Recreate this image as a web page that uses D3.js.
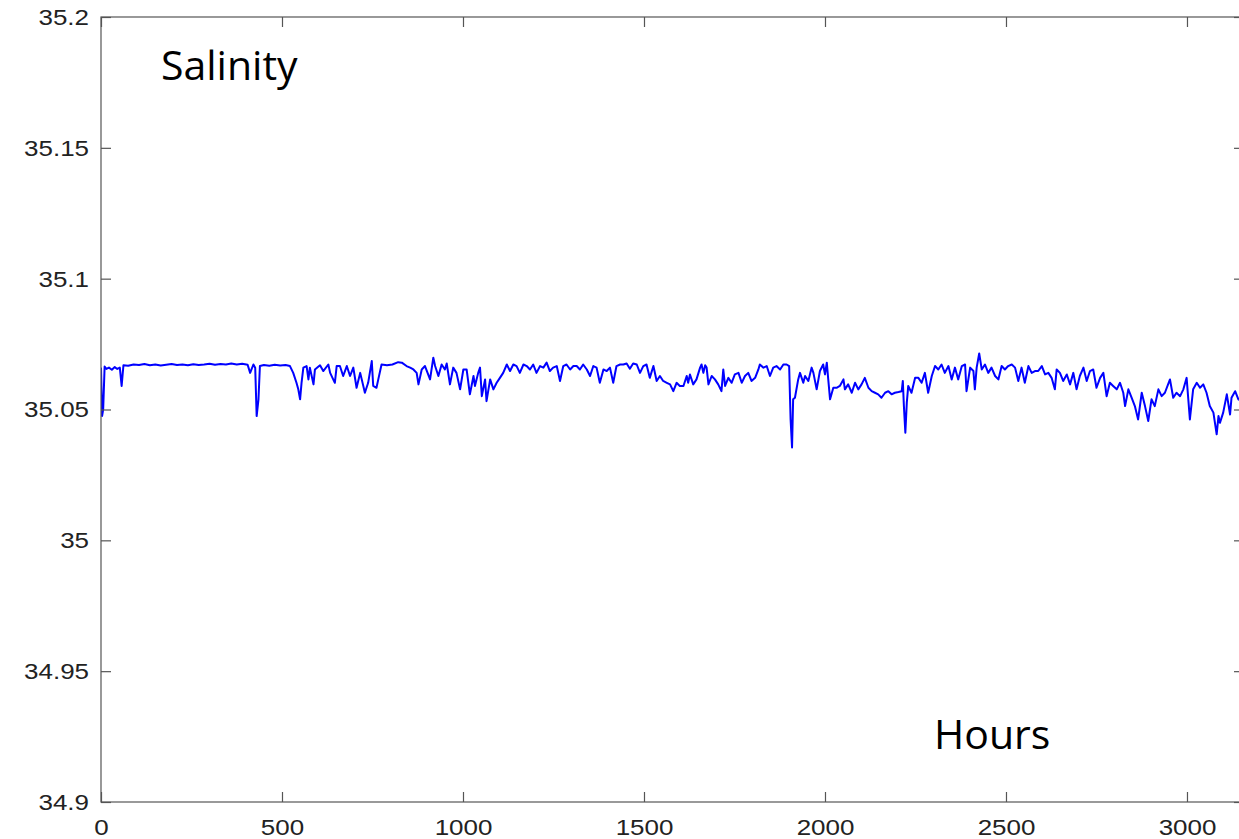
<!DOCTYPE html>
<html>
<head>
<meta charset="utf-8">
<script src="https://cdn.jsdelivr.net/npm/d3@7"></script>
<style>
  html, body { margin: 0; padding: 0; background: #fff; overflow: hidden; }
  svg { display: block; }
</style>
</head>
<body>
<svg id="chart" width="1239" height="839"></svg>
<script>
// Hourly record of salinity (hour of record, salinity)
const hours = [
  0, 3, 6, 10, 15, 22, 30, 38, 45, 52, 57, 62, 75, 90, 105, 120, 135, 150, 165, 180,
  195, 210, 225, 240, 255, 270, 285, 300, 315, 330, 345, 360, 375, 390, 405, 412, 421, 426, 430, 435,
  439, 450, 465, 480, 495, 510, 522, 531, 540, 545, 550, 554, 559, 568, 573, 577, 587, 591, 605, 614,
  628, 633, 646, 651, 660, 669, 679, 688, 697, 706, 716, 729, 738, 748, 752, 761, 766, 775, 790, 805,
  821, 831, 844, 854, 863, 872, 877, 886, 895, 909, 918, 923, 932, 941, 950, 955, 964, 973, 982, 992,
  1001, 1010, 1019, 1029, 1033, 1042, 1047, 1052, 1061, 1065, 1075, 1084, 1093, 1102, 1111, 1121, 1130, 1139, 1148, 1157,
  1167, 1176, 1185, 1194, 1203, 1213, 1222, 1231, 1240, 1249, 1259, 1268, 1277, 1286, 1296, 1305, 1314, 1323, 1332, 1342,
  1351, 1360, 1369, 1378, 1388, 1397, 1406, 1415, 1424, 1434, 1443, 1452, 1461, 1470, 1480, 1489, 1498, 1507, 1516, 1526,
  1535, 1544, 1553, 1563, 1572, 1581, 1590, 1599, 1609, 1618, 1622, 1627, 1636, 1645, 1655, 1659, 1664, 1669, 1673, 1678,
  1687, 1696, 1705, 1714, 1719, 1724, 1733, 1742, 1751, 1761, 1770, 1779, 1788, 1797, 1807, 1816, 1820, 1830, 1839, 1848,
  1857, 1866, 1876, 1885, 1894, 1901, 1905, 1909, 1912, 1917, 1926, 1931, 1940, 1945, 1954, 1963, 1968, 1977, 1986, 1995,
  2000, 2005, 2009, 2014, 2023, 2032, 2041, 2051, 2055, 2064, 2074, 2083, 2092, 2101, 2110, 2120, 2129, 2138, 2147, 2156,
  2166, 2175, 2184, 2193, 2203, 2212, 2215, 2218, 2222, 2226, 2230, 2239, 2249, 2258, 2267, 2276, 2285, 2295, 2304, 2313,
  2322, 2331, 2341, 2350, 2359, 2368, 2378, 2387, 2391, 2401, 2410, 2414, 2419, 2426, 2433, 2442, 2451, 2460, 2470, 2479,
  2488, 2497, 2506, 2516, 2525, 2534, 2543, 2552, 2562, 2571, 2580, 2589, 2599, 2608, 2617, 2626, 2635, 2640, 2649, 2658,
  2668, 2677, 2686, 2695, 2704, 2714, 2723, 2732, 2741, 2750, 2760, 2769, 2778, 2787, 2796, 2806, 2815, 2824, 2829, 2838,
  2847, 2856, 2865, 2875, 2884, 2893, 2902, 2911, 2921, 2930, 2939, 2953, 2962, 2971, 2981, 2990, 2999, 3008, 3017, 3027,
  3036, 3045, 3054, 3063, 3073, 3082, 3087, 3091, 3100, 3110, 3119, 3123, 3133, 3142, 3150
];

const salinity = [
  35.0660, 35.0475, 35.0500, 35.0664, 35.0655, 35.0660, 35.0652, 35.0662, 35.0655, 35.0660, 35.0590, 35.0669, 35.0667, 35.0672, 35.0670, 35.0674, 35.0669, 35.0672, 35.0668, 35.0671,
  35.0674, 35.0670, 35.0672, 35.0669, 35.0673, 35.0670, 35.0672, 35.0675, 35.0671, 35.0674, 35.0672, 35.0676, 35.0672, 35.0675, 35.0671, 35.0640, 35.0672, 35.0660, 35.0475, 35.0539,
  35.0666, 35.0670, 35.0667, 35.0671, 35.0668, 35.0670, 35.0666, 35.0640, 35.0602, 35.0577, 35.0539, 35.0602, 35.0660, 35.0666, 35.0615, 35.0660, 35.0596, 35.0653, 35.0669, 35.0647,
  35.0672, 35.0640, 35.0602, 35.0666, 35.0666, 35.0628, 35.0666, 35.0628, 35.0660, 35.0583, 35.0640, 35.0564, 35.0602, 35.0685, 35.0590, 35.0583, 35.0615, 35.0672, 35.0669, 35.0672,
  35.0681, 35.0679, 35.0666, 35.0660, 35.0653, 35.0640, 35.0596, 35.0653, 35.0666, 35.0615, 35.0698, 35.0666, 35.0628, 35.0672, 35.0653, 35.0676, 35.0596, 35.0660, 35.0640, 35.0577,
  35.0653, 35.0653, 35.0558, 35.0628, 35.0590, 35.0640, 35.0660, 35.0551, 35.0615, 35.0532, 35.0615, 35.0577, 35.0602, 35.0621, 35.0640, 35.0672, 35.0647, 35.0672, 35.0666, 35.0640,
  35.0672, 35.0666, 35.0653, 35.0672, 35.0640, 35.0666, 35.0660, 35.0679, 35.0647, 35.0660, 35.0666, 35.0609, 35.0666, 35.0672, 35.0653, 35.0666, 35.0666, 35.0653, 35.0672, 35.0653,
  35.0628, 35.0666, 35.0660, 35.0602, 35.0653, 35.0647, 35.0660, 35.0602, 35.0666, 35.0672, 35.0672, 35.0676, 35.0656, 35.0676, 35.0672, 35.0640, 35.0666, 35.0672, 35.0621, 35.0666,
  35.0609, 35.0628, 35.0609, 35.0602, 35.0596, 35.0570, 35.0602, 35.0590, 35.0590, 35.0628, 35.0602, 35.0634, 35.0596, 35.0615, 35.0660, 35.0672, 35.0640, 35.0669, 35.0660, 35.0596,
  35.0628, 35.0615, 35.0596, 35.0570, 35.0653, 35.0590, 35.0621, 35.0602, 35.0634, 35.0640, 35.0602, 35.0628, 35.0640, 35.0609, 35.0621, 35.0653, 35.0672, 35.0660, 35.0666, 35.0628,
  35.0660, 35.0666, 35.0653, 35.0672, 35.0672, 35.0666, 35.0462, 35.0355, 35.0539, 35.0545, 35.0615, 35.0640, 35.0602, 35.0628, 35.0609, 35.0660, 35.0640, 35.0577, 35.0647, 35.0672,
  35.0634, 35.0679, 35.0615, 35.0539, 35.0583, 35.0583, 35.0590, 35.0615, 35.0577, 35.0596, 35.0564, 35.0602, 35.0577, 35.0596, 35.0621, 35.0583, 35.0570, 35.0564, 35.0558, 35.0545,
  35.0564, 35.0570, 35.0558, 35.0564, 35.0567, 35.0570, 35.0609, 35.0513, 35.0411, 35.0526, 35.0590, 35.0564, 35.0621, 35.0621, 35.0602, 35.0640, 35.0564, 35.0628, 35.0666, 35.0653,
  35.0672, 35.0640, 35.0666, 35.0615, 35.0660, 35.0615, 35.0666, 35.0672, 35.0570, 35.0660, 35.0647, 35.0577, 35.0660, 35.0714, 35.0653, 35.0672, 35.0640, 35.0660, 35.0628, 35.0615,
  35.0666, 35.0653, 35.0666, 35.0672, 35.0660, 35.0609, 35.0660, 35.0602, 35.0666, 35.0640, 35.0647, 35.0647, 35.0666, 35.0634, 35.0640, 35.0621, 35.0577, 35.0653, 35.0640, 35.0609,
  35.0634, 35.0596, 35.0640, 35.0577, 35.0628, 35.0660, 35.0609, 35.0647, 35.0653, 35.0583, 35.0621, 35.0640, 35.0551, 35.0602, 35.0590, 35.0577, 35.0602, 35.0564, 35.0513, 35.0577,
  35.0545, 35.0513, 35.0462, 35.0564, 35.0513, 35.0456, 35.0539, 35.0513, 35.0577, 35.0551, 35.0564, 35.0615, 35.0545, 35.0564, 35.0551, 35.0577, 35.0621, 35.0462, 35.0577, 35.0602,
  35.0583, 35.0596, 35.0564, 35.0513, 35.0488, 35.0405, 35.0475, 35.0449, 35.0488, 35.0558, 35.0481, 35.0545, 35.0570, 35.0539, 35.0532
];

const xTicks = [0, 500, 1000, 1500, 2000, 2500, 3000];
const yTicks = [34.9, 34.95, 35, 35.05, 35.1, 35.15, 35.2];
const yTickLabels = ["34.9", "34.95", "35", "35.05", "35.1", "35.15", "35.2"];

const svg = d3.select("#chart");
const plot = { left: 101, top: 17, right: 1244, bottom: 802 };

const x = d3.scaleLinear().domain([0, 3157.5]).range([plot.left, plot.right]);
const y = d3.scaleLinear().domain([34.9, 35.2]).range([plot.bottom, plot.top]);

const axisColor = "#555";
const tickLen = 10;
const labelStretch = 1.18;

// Clip the series to the plotting box
svg.append("defs").append("clipPath").attr("id", "plot-clip")
  .append("rect")
  .attr("x", plot.left).attr("y", plot.top)
  .attr("width", plot.right - plot.left).attr("height", plot.bottom - plot.top);

// Salinity trace
const points = hours.map((h, i) => [h, salinity[i]]);
const line = d3.line().x(d => x(d[0])).y(d => y(d[1]));
svg.append("path")
  .attr("clip-path", "url(#plot-clip)")
  .attr("d", line(points))
  .attr("fill", "none")
  .attr("stroke", "#0000ff")
  .attr("stroke-width", 2)
  .attr("stroke-linejoin", "round");

// Box frame
svg.append("rect")
  .attr("x", plot.left).attr("y", plot.top)
  .attr("width", plot.right - plot.left).attr("height", plot.bottom - plot.top)
  .attr("fill", "none").attr("stroke", axisColor).attr("stroke-width", 1.2);

function styleAxis(g) {
  g.select(".domain").remove();
  g.selectAll(".tick line").attr("stroke", axisColor).attr("stroke-width", 1.2);
}

// Bottom axis with inward ticks and labels
const gx = svg.append("g")
  .attr("transform", `translate(0,${plot.bottom})`)
  .call(d3.axisBottom(x).tickValues(xTicks).tickSizeInner(-tickLen).tickSizeOuter(0).tickFormat(d3.format("d")));
styleAxis(gx);
gx.selectAll(".tick text")
  .attr("y", 33).attr("dy", 0)
  .attr("transform", `scale(${labelStretch},1)`)
  .attr("fill", "#222")
  .style("font-family", "'Liberation Sans', Arial, sans-serif")
  .style("font-size", "22px");

// Top axis: ticks only
const gxTop = svg.append("g")
  .attr("transform", `translate(0,${plot.top})`)
  .call(d3.axisTop(x).tickValues(xTicks).tickSizeInner(-tickLen).tickSizeOuter(0).tickFormat(""));
styleAxis(gxTop);

// Left axis with inward ticks and labels
const gy = svg.append("g")
  .attr("transform", `translate(${plot.left},0)`)
  .call(d3.axisLeft(y).tickValues(yTicks).tickSizeInner(-tickLen).tickSizeOuter(0)
    .tickFormat((d, i) => yTickLabels[i]));
styleAxis(gy);
gy.selectAll(".tick text")
  .attr("x", -12 / labelStretch).attr("dy", "0.34em")
  .attr("transform", `scale(${labelStretch},1)`)
  .attr("text-anchor", "end")
  .attr("fill", "#222")
  .style("font-family", "'Liberation Sans', Arial, sans-serif")
  .style("font-size", "22px");

// Right axis: ticks only
const gyRight = svg.append("g")
  .attr("transform", `translate(${plot.right},0)`)
  .call(d3.axisRight(y).tickValues(yTicks).tickSizeInner(-tickLen).tickSizeOuter(0).tickFormat(""));
styleAxis(gyRight);

// Annotations
svg.append("text")
  .attr("x", 161).attr("y", 80)
  .attr("fill", "#000")
  .style("font-family", "'Open Sans', sans-serif")
  .style("font-size", "41px")
  .text("Salinity");

svg.append("text")
  .attr("x", 934).attr("y", 749)
  .attr("fill", "#000")
  .style("font-family", "'Open Sans', sans-serif")
  .style("font-size", "41px")
  .text("Hours");
</script>
</body>
</html>
